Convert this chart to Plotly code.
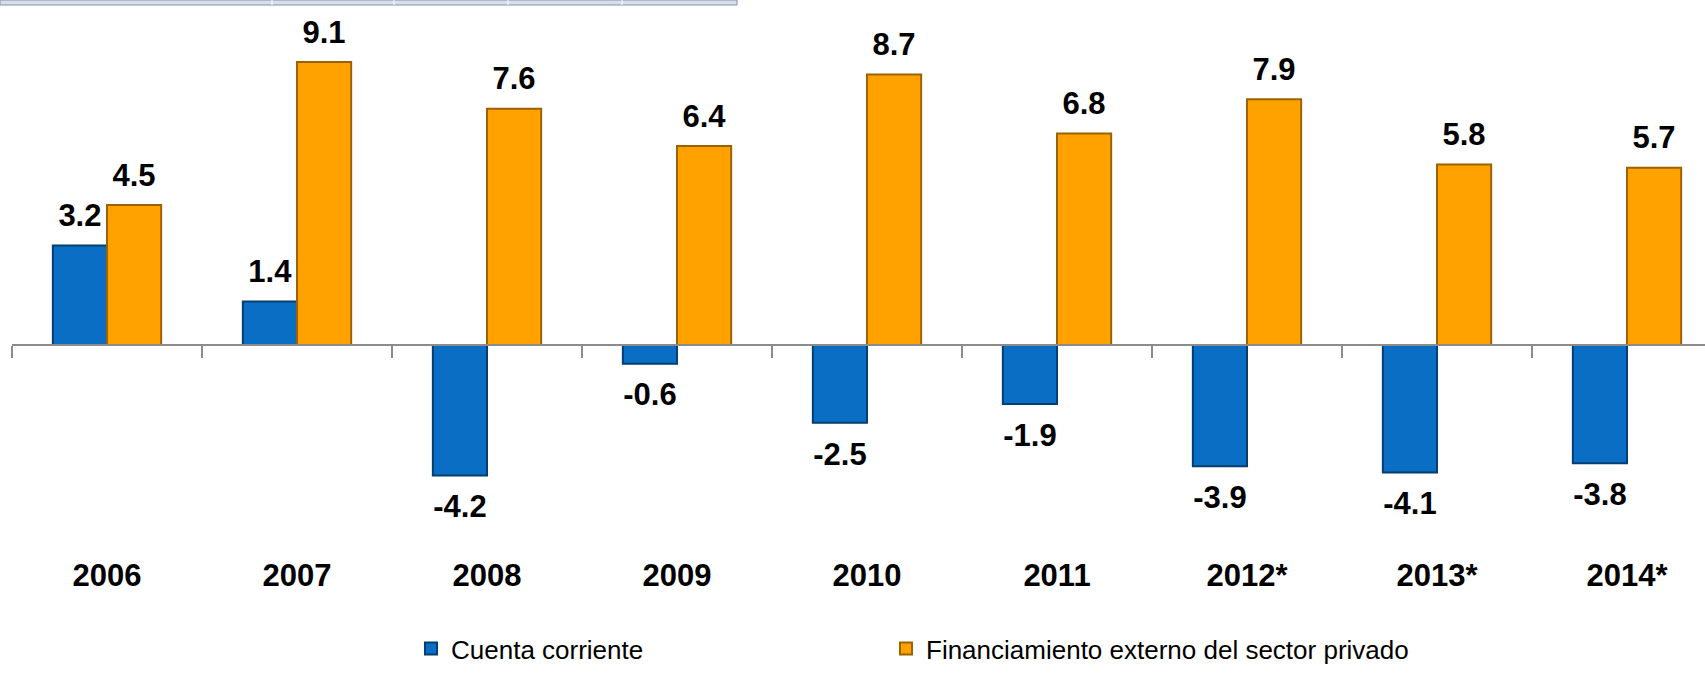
import plotly.graph_objects as go

years = ["2006", "2007", "2008", "2009", "2010", "2011", "2012*", "2013*", "2014*"]
cuenta_corriente = [3.2, 1.4, -4.2, -0.6, -2.5, -1.9, -3.9, -4.1, -3.8]
financiamiento = [4.5, 9.1, 7.6, 6.4, 8.7, 6.8, 7.9, 5.8, 5.7]

series_names = ["Cuenta corriente", "Financiamiento externo del sector privado"]
colors = ["#0B6EC5", "#FFA200"]
edge_colors = ["#053E70", "#9C6200"]

FONT = "Liberation Sans, Arial, sans-serif"

W, H = 1705, 673
M_L, M_B = 12, 119
plot_w = W - M_L
plot_h = H - M_B
cat_px = 190.0
x_max = -0.5 + plot_w / cat_px

zero_px = 345
px_per_unit = 31.1
y_top = zero_px / px_per_unit
y_bot = -(plot_h - zero_px) / px_per_unit

fig = go.Figure()

for name, vals, col, edge, grp, lg in zip(series_names, [cuenta_corriente, financiamiento],
                                           colors, edge_colors, ["a", "b"], ["legend", "legend2"]):
    fig.add_trace(go.Bar(
        x=years, y=vals, name=name, offsetgroup=grp, legend=lg,
        marker=dict(color=col, line=dict(color=edge, width=2)),
        hoverinfo="skip",
    ))

# value labels, grouped the same way as the bars
for vals, grp in zip([cuenta_corriente, financiamiento], ["a", "b"]):
    fig.add_trace(go.Scatter(
        x=years, y=vals, offsetgroup=grp, mode="markers+text",
        text=[f"{v:.1f}" for v in vals],
        textposition=["top center" if v >= 0 else "bottom center" for v in vals],
        textfont=dict(family=FONT, size=31, color="black", weight="bold"),
        marker=dict(size=[17 if v >= 0 else 28 for v in vals], opacity=0),
        showlegend=False, hoverinfo="skip", cliponaxis=False,
    ))

# empty trace so the zero-line axis (x2) gets drawn
fig.add_trace(go.Scatter(x=[None], y=[None], xaxis="x2", showlegend=False,
                         hoverinfo="skip", mode="lines"))

# leftover border of a table above the chart
band_b = 1 - 5 / plot_h
shapes = [dict(type="rect", xref="paper", yref="paper", x0=-M_L / plot_w,
               x1=(737 - M_L) / plot_w, y0=band_b, y1=1, fillcolor="#D8DEE7",
               line=dict(color="#7F95B5", width=1))]
for px in [272, 394, 508, 622]:
    xp = (px - M_L) / plot_w
    shapes.append(dict(type="line", xref="paper", yref="paper", x0=xp, x1=xp,
                       y0=band_b, y1=1, line=dict(color="#FFFFFF", width=1)))

legend_style = dict(orientation="h", xanchor="left", yanchor="bottom",
                    y=-(672 - plot_h) / plot_h,
                    font=dict(family=FONT, size=26, color="black"),
                    bgcolor="rgba(0,0,0,0)")

fig.update_layout(
    width=W, height=H,
    margin=dict(l=M_L, r=0, t=0, b=M_B, pad=0, autoexpand=False),
    paper_bgcolor="white", plot_bgcolor="white",
    barmode="group", bargap=0.43, bargroupgap=0,
    scattermode="group", scattergap=0.43,
    showlegend=True,
    legend=dict(x=(411 - M_L) / plot_w, **legend_style),
    legend2=dict(x=(886 - M_L) / plot_w, **legend_style),
    xaxis=dict(range=[-0.5, x_max], showline=False, showgrid=False, ticks="",
               tickfont=dict(family=FONT, size=31, color="black", weight="bold"),
               fixedrange=True),
    xaxis2=dict(overlaying="x", anchor="free", position=(plot_h - zero_px) / plot_h,
                range=[-0.5, x_max], tickvals=[i - 0.5 for i in range(len(years) + 1)],
                showticklabels=False, ticks="outside", ticklen=12, tickwidth=2,
                tickcolor="#8C8C8C", showline=True, linecolor="#8C8C8C", linewidth=2,
                showgrid=False, zeroline=False, fixedrange=True),
    yaxis=dict(range=[y_bot, y_top], visible=False, showgrid=False, zeroline=False,
               fixedrange=True),
    shapes=shapes,
)

fig.write_html("out.html", config={"displayModeBar": False},
               post_script="document.body.style.margin='0';document.body.style.overflow='hidden';")
